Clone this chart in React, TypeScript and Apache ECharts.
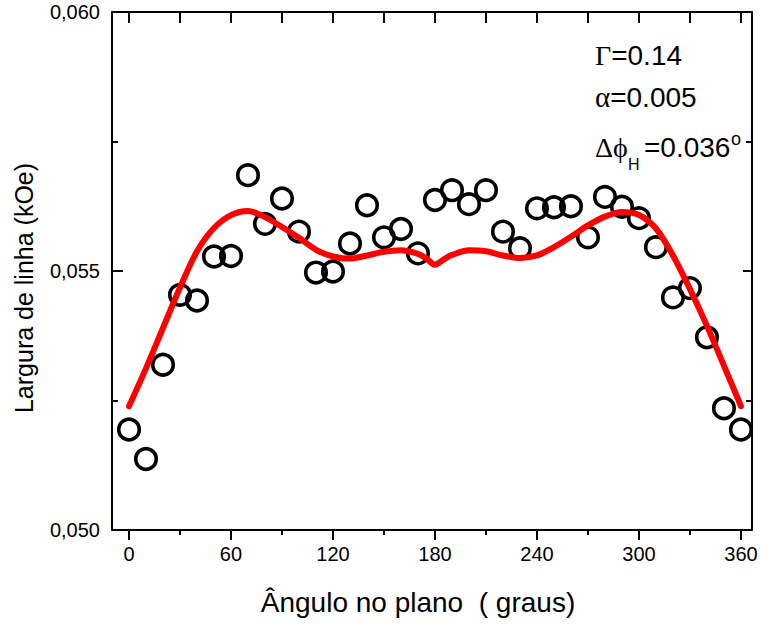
import React, { useEffect, useRef } from "react";
import * as echarts from "echarts";

// Measured data (angle in degrees, linewidth in kOe)
const angles = [0, 10, 20, 30, 40, 50, 60, 70, 80, 90, 100, 110, 120, 130, 140, 150, 160, 170, 180, 190, 200, 210, 220, 230, 240, 250, 260, 270, 280, 290, 300, 310, 320, 330, 340, 350, 360];
const widths = [0.05194, 0.05137, 0.05319, 0.05454, 0.05443, 0.05528, 0.05529, 0.05685, 0.05591, 0.0564, 0.05576, 0.05497, 0.05499, 0.05553, 0.05627, 0.05565, 0.05581, 0.05534, 0.05637, 0.05656, 0.05629, 0.05656, 0.05576, 0.05544, 0.05621, 0.05623, 0.05625, 0.05565, 0.05643, 0.05624, 0.05602, 0.05546, 0.05449, 0.05467, 0.05372, 0.05235, 0.05194];

// Fitted curve
const fitAngles = [0, 10, 20, 30, 40, 50, 60, 70, 80, 90, 100, 110, 120, 130, 140, 150, 160, 170, 175, 180, 185, 190, 200, 210, 220, 230, 240, 250, 260, 270, 280, 290, 300, 310, 320, 330, 340, 350, 360];
const fitWidths = [0.05239, 0.05312, 0.0539, 0.05468, 0.05538, 0.05583, 0.05608, 0.05616, 0.05604, 0.05585, 0.05564, 0.05541, 0.05528, 0.05524, 0.0553, 0.05537, 0.0554, 0.05533, 0.05524, 0.05512, 0.05522, 0.05531, 0.0554, 0.05538, 0.0553, 0.05525, 0.0553, 0.05546, 0.05566, 0.05588, 0.05605, 0.05614, 0.05608, 0.05582, 0.0553, 0.05465, 0.05394, 0.05317, 0.05239];

// Axis ticks
const xMajorTicks = [0, 60, 120, 180, 240, 300, 360];
const xMinorTicks = [30, 90, 150, 210, 270, 330];
const xTopTicks = [0, 30, 60, 90, 120, 150, 180, 210, 240, 270, 300, 330, 360];

const xTitle = "Ângulo no plano  ( graus)";
const yTitle = "Largura de linha (kOe)";

const SANS = "'Liberation Sans', Arial, sans-serif";
const SERIF = "'Liberation Serif', 'DejaVu Serif', 'Times New Roman', serif";

export default function App() {
  const ref = useRef<HTMLDivElement>(null);

  useEffect(() => {
    if (!ref.current) return;
    const chart = echarts.init(ref.current, null, { renderer: "svg" });
    const xMin = -10;
    const xMax = 366.5;
    const axisColor = "#000";

    chart.setOption({
      animation: false,
      backgroundColor: "#fff",
      grid: { left: 112, right: 9, top: 12, bottom: 94, containLabel: false },
      xAxis: [
        {
          type: "value",
          min: xMin,
          max: xMax,
          position: "bottom",
          axisLine: { show: true, onZero: false, lineStyle: { color: axisColor, width: 2 } },
          axisTick: { show: true, inside: false, length: 10, lineStyle: { color: axisColor, width: 2 }, customValues: xMajorTicks },
          axisLabel: { show: true, customValues: xMajorTicks, fontSize: 20, fontFamily: SANS, color: "#000", margin: 14 },
          splitLine: { show: false },
        },
        {
          type: "value",
          min: xMin,
          max: xMax,
          position: "bottom",
          axisLine: { show: false, onZero: false },
          axisTick: { show: true, inside: false, length: 5, lineStyle: { color: axisColor, width: 2 }, customValues: xMinorTicks },
          axisLabel: { show: false },
          splitLine: { show: false },
        },
        {
          type: "value",
          min: xMin,
          max: xMax,
          position: "top",
          axisLine: { show: true, onZero: false, lineStyle: { color: axisColor, width: 2 } },
          axisTick: { show: true, inside: true, length: 11, lineStyle: { color: axisColor, width: 2 }, customValues: xTopTicks },
          axisLabel: { show: false },
          splitLine: { show: false },
        },
      ],
      yAxis: [
        {
          type: "value",
          min: 0.05,
          max: 0.06,
          interval: 0.005,
          position: "left",
          axisLine: { show: true, onZero: false, lineStyle: { color: axisColor, width: 2 } },
          axisTick: { show: true, inside: true, length: 11, lineStyle: { color: axisColor, width: 2 } },
          minorTick: { show: true, splitNumber: 2, length: 6, lineStyle: { color: axisColor, width: 2 } },
          axisLabel: {
            show: true,
            fontSize: 20,
            fontFamily: SANS,
            color: "#000",
            margin: 12,
            formatter: (v: number) => v.toFixed(3).replace(".", ","),
          },
          splitLine: { show: false },
          minorSplitLine: { show: false },
        },
        {
          type: "value",
          min: 0.05,
          max: 0.06,
          interval: 0.005,
          position: "right",
          axisLine: { show: true, onZero: false, lineStyle: { color: axisColor, width: 2 } },
          axisTick: { show: true, inside: true, length: 9, lineStyle: { color: axisColor, width: 2 } },
          minorTick: { show: true, splitNumber: 2, length: 6, lineStyle: { color: axisColor, width: 2 } },
          axisLabel: { show: false },
          splitLine: { show: false },
          minorSplitLine: { show: false },
        },
      ],
      series: [
        {
          name: "Dados",
          type: "scatter",
          xAxisIndex: 0,
          yAxisIndex: 0,
          symbol: "circle",
          symbolSize: 20.5,
          itemStyle: { color: "transparent", borderColor: "#000", borderWidth: 3.6, opacity: 1 },
          data: angles.map((a, i) => [a, widths[i]]),
          z: 2,
        },
        {
          name: "Ajuste",
          type: "line",
          xAxisIndex: 0,
          yAxisIndex: 0,
          smooth: 0.3,
          showSymbol: false,
          symbol: "none",
          lineStyle: { color: "#ff0000", width: 6, cap: "round", join: "round" },
          data: fitAngles.map((a, i) => [a, fitWidths[i]]),
          z: 3,
        },
      ],
      graphic: [
        {
          type: "text",
          x: 418,
          y: 602,
          style: { text: xTitle, fontSize: 28, fontFamily: SANS, fill: "#000", align: "center", verticalAlign: "middle" },
        },
        {
          type: "text",
          x: 24,
          y: 288,
          rotation: Math.PI / 2,
          style: { text: yTitle, fontSize: 25, fontFamily: SANS, fill: "#000", align: "center", verticalAlign: "middle" },
        },
        {
          type: "text",
          x: 595,
          y: 55,
          style: {
            text: "{g|Γ}{t|=0.14}",
            verticalAlign: "middle",
            rich: {
              g: { fontSize: 28, fontFamily: SERIF, fill: "#000" },
              t: { fontSize: 28, fontFamily: SANS, fill: "#000" },
            },
          },
        },
        {
          type: "text",
          x: 595,
          y: 97,
          style: {
            text: "{g|α}{t|=0.005}",
            verticalAlign: "middle",
            rich: {
              g: { fontSize: 29, fontFamily: SERIF, fill: "#000" },
              t: { fontSize: 28, fontFamily: SANS, fill: "#000" },
            },
          },
        },
        {
          type: "text",
          x: 595,
          y: 147,
          style: { text: "Δϕ", fontSize: 28, fontFamily: SERIF, fill: "#000", verticalAlign: "middle" },
        },
        {
          type: "text",
          x: 628,
          y: 164,
          style: { text: "H", fontSize: 16, fontFamily: SANS, fill: "#000", verticalAlign: "middle" },
        },
        {
          type: "text",
          x: 644,
          y: 147,
          style: { text: "=0.036", fontSize: 28, fontFamily: SANS, fill: "#000", verticalAlign: "middle" },
        },
        {
          type: "text",
          x: 731,
          y: 139,
          style: { text: "o", fontSize: 18, fontFamily: SANS, fill: "#000", verticalAlign: "middle" },
        },
      ],
    });

    return () => chart.dispose();
  }, []);

  return <div ref={ref} style={{ position: "fixed", left: 0, top: 0, width: 761, height: 624 }} />;
}
